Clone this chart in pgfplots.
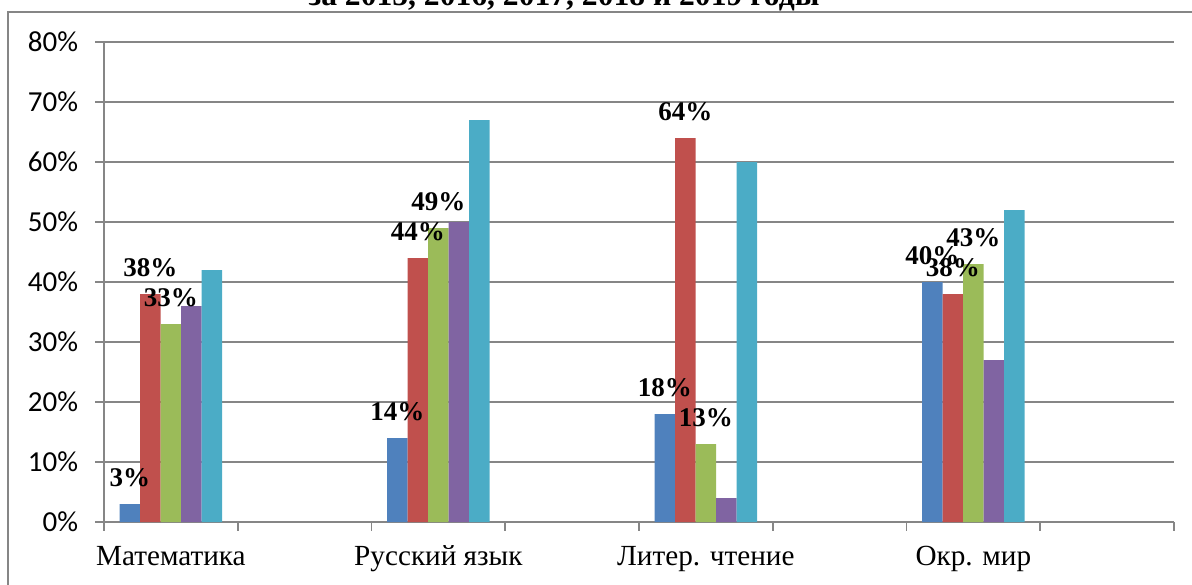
\documentclass[border=0pt]{standalone}
\usepackage{fontspec}
\setmainfont{Liberation Serif}
\newfontfamily\carlito{Carlito}
\usepackage{pgfplots}
\pgfplotsset{compat=1.18}
\definecolor{gridc}{HTML}{868686}
\definecolor{s1}{HTML}{4F81BD}
\definecolor{s2}{HTML}{C0504D}
\definecolor{s3}{HTML}{9BBB59}
\definecolor{s4}{HTML}{8064A2}
\definecolor{s5}{HTML}{4BACC6}
\begin{document}
\begin{tikzpicture}
\useasboundingbox (-52pt,-31pt) rectangle (544pt,261pt);
\clip (-52pt,-31pt) rectangle (544pt,261pt);
\draw[gridc, line width=0.6pt] (-48pt,255pt) rectangle (600pt,-60pt);
\node[anchor=base, font=\fontsize{15.8}{18}\selectfont\bfseries] at (230pt,258pt) {за 2015, 2016, 2017, 2018 и 2019 годы};
\begin{axis}[
  at={(0pt,0pt)}, anchor=south west,
  scale only axis, width=535pt, height=240pt,
  xmin=-0.5, xmax=7.5, ymin=0, ymax=80,
  axis lines*=left,
  axis line style={gridc, line width=0.9pt},
  ymajorgrids, grid style={gridc, line width=0.9pt},
  ytick={0,10,...,80},
  yticklabel={\pgfmathprintnumber{\tick}\%},
  yticklabel style={font=\carlito\fontsize{14.5}{16}\selectfont, inner sep=0pt, xshift=-8.5pt},
  xtick={-0.5,0.5,...,7.5}, xticklabels={},
  extra x ticks={0,2,4,6},
  extra x tick labels={Математика,Русский язык,Литер. чтение,Окр. мир},
  extra x tick style={major tick length=0pt, xticklabel style={anchor=base, yshift=-21.5pt, font=\fontsize{14.6}{16}\selectfont}},
  tick align=outside, major tick length=4.25pt,
  tick style={gridc, line width=0.9pt},
  /pgf/number format/assume math mode=true,
  ybar, bar width=10.25pt,
  every node near coord/.append style={font=\bfseries\fontsize{13.5}{15}\selectfont, inner sep=0pt, yshift=8.5pt, black},
  nodes near coords={\pgfmathprintnumber{\pgfplotspointmeta}\%},
]
\addplot[fill=s1, draw=none, bar shift=-20.5pt] coordinates {(0,3) (2,14) (4,18) (6,40)};
\addplot[fill=s2, draw=none, bar shift=-10.25pt] coordinates {(0,38) (2,44) (4,64) (6,38)};
\addplot[fill=s3, draw=none, bar shift=0pt] coordinates {(0,33) (2,49) (4,13) (6,43)};
\addplot[fill=s4, draw=none, bar shift=10.25pt, nodes near coords={}] coordinates {(0,36) (2,50) (4,4) (6,27)};
\addplot[fill=s5, draw=none, bar shift=20.5pt, nodes near coords={}] coordinates {(0,42) (2,67) (4,60) (6,52)};
\end{axis}
\end{tikzpicture}
\end{document}
